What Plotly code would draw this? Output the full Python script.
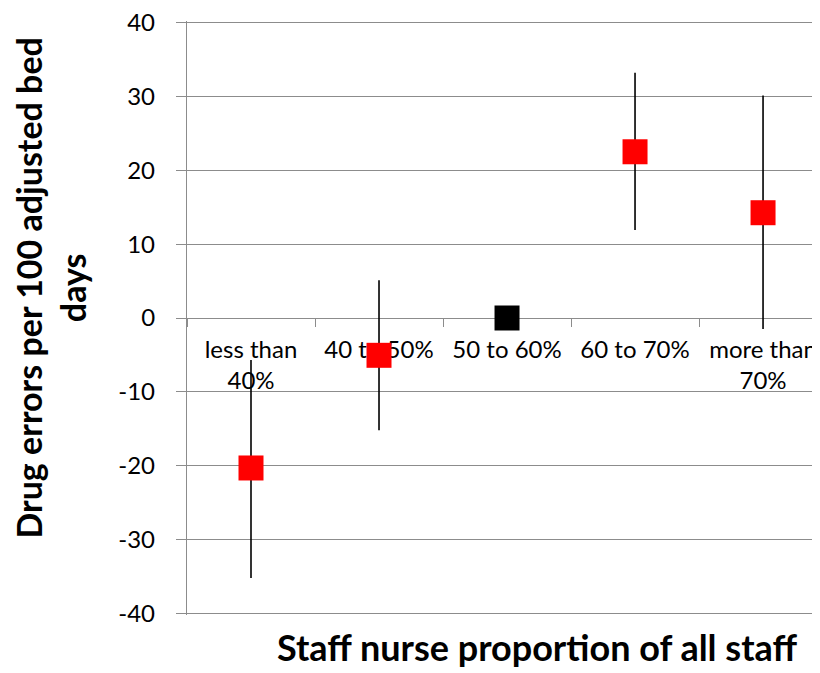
import plotly.graph_objects as go

categories = ["less than<br>40%", "40 to 50%", "50 to 60%", "60 to 70%", "more than<br>70%"]
values = [-20.3, -5.05, 0.0, 22.5, 14.25]
upper = [-5.7, 5.1, 0.0, 33.2, 30.1]
lower = [-35.2, -15.2, 0.0, 11.9, -1.5]
colors = ["#FF0000", "#FF0000", "#000000", "#FF0000", "#FF0000"]
y_ticks = [-40, -30, -20, -10, 0, 10, 20, 30, 40]

err_plus = [u - v for u, v in zip(upper, values)]
err_minus = [v - l for v, l in zip(values, lower)]

FONT = "Lato"
GRID = "#8c8c8c"

fig = go.Figure()
fig.add_trace(go.Scatter(
    x=categories, y=values, mode="markers",
    marker=dict(symbol="square", size=25, color=colors, line=dict(width=0)),
    error_y=dict(type="data", symmetric=False, array=err_plus, arrayminus=err_minus,
                 color="black", thickness=1.6, width=0),
    showlegend=False,
))

fig.update_layout(
    width=812, height=665,
    margin=dict(l=179, r=0, t=12.5, b=57.5),
    paper_bgcolor="white", plot_bgcolor="white",
    font=dict(family=FONT, color="black"),
    xaxis=dict(
        type="category", categoryorder="array", categoryarray=categories,
        range=[-0.5, 4.445],
        anchor="free", position=0.5,
        showline=True, linecolor=GRID, linewidth=1.3,
        ticks="outside", ticklen=8, tickcolor=GRID, tickwidth=1.3,
        tickson="boundaries", showgrid=False, zeroline=False,
        tickfont=dict(family=FONT, size=24, color="black"),
        ticklabelstandoff=10,
        ticklabeloverflow="allow",
        layer="below traces",
    ),
    yaxis=dict(
        range=[-40.2, 40.2], tickvals=y_ticks, ticktext=[str(v) for v in y_ticks],
        showgrid=True, gridcolor=GRID, gridwidth=1.3,
        showline=True, linecolor=GRID, linewidth=1.3,
        ticks="outside", ticklen=10, tickcolor=GRID, tickwidth=1.3,
        zeroline=False,
        tickfont=dict(family=FONT, size=24, color="black"),
        ticklabelstandoff=16,
        ticklabeloverflow="allow",
        layer="below traces",
    ),
    annotations=[
        dict(text="<b>Staff nurse proportion of all staff</b>", xref="paper", yref="paper",
             x=0.553, y=-0.054, xanchor="center", yanchor="middle", showarrow=False,
             font=dict(family=FONT, size=36, color="black")),
        dict(text="<b>Drug errors per 100 adjusted bed<br>days</b>", xref="paper", yref="paper",
             x=-0.216, y=0.55, xanchor="center", yanchor="middle", showarrow=False,
             textangle=-90, font=dict(family=FONT, size=34, color="black")),
    ],
)

fig.write_html("out.html")
